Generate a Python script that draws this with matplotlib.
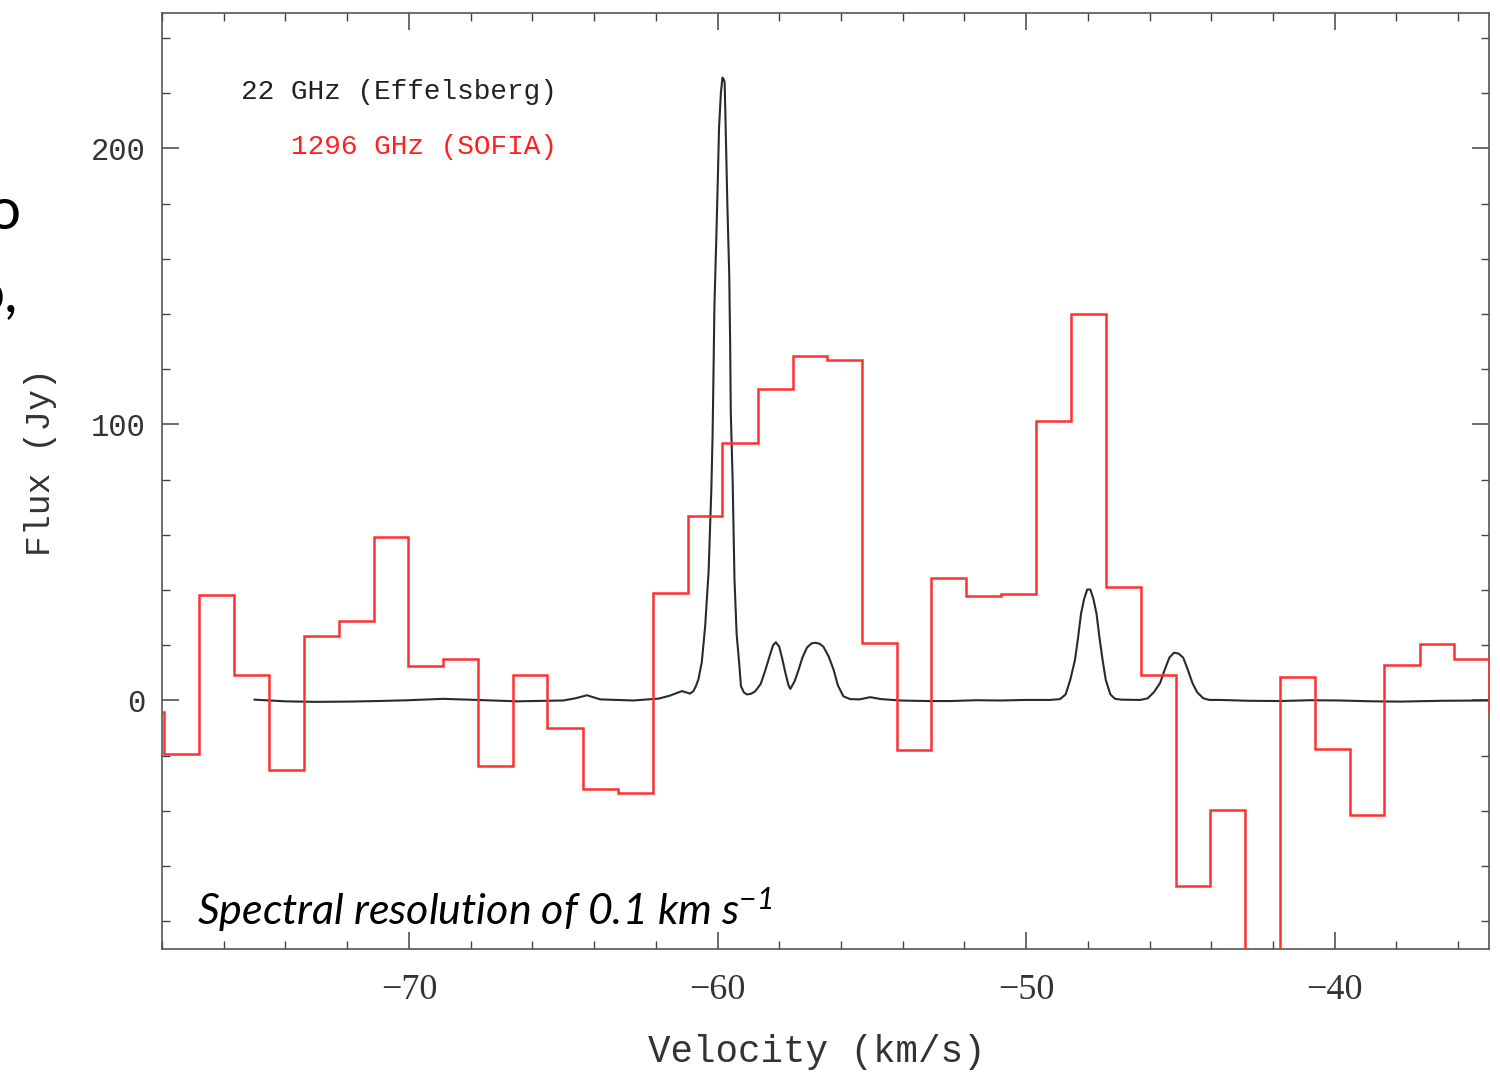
import numpy as np
import matplotlib.pyplot as plt
from matplotlib.ticker import MultipleLocator

# 22 GHz spectrum (Effelsberg)
vel_22 = [-75.0, -74.0, -73.0, -72.0, -71.0, -70.0, -68.9, -67.8, -66.5, -65.0,
          -64.6, -64.23, -63.8, -62.73, -61.9, -61.53, -61.3, -61.15, -60.89, -60.78,
          -60.70, -60.62, -60.51, -60.40, -60.29, -60.20, -60.16, -60.13, -60.10, -60.04,
          -59.99, -59.95, -59.89, -59.84, -59.80, -59.77, -59.75, -59.72, -59.68, -59.62,
          -59.59, -59.57, -59.51, -59.45, -59.38, -59.30, -59.24, -59.15, -59.05, -58.92,
          -58.78, -58.60, -58.45, -58.30, -58.20, -58.11, -58.00, -57.90, -57.80, -57.70,
          -57.64, -57.50, -57.37, -57.25, -57.10, -56.95, -56.83, -56.70, -56.57, -56.40,
          -56.24, -56.10, -55.92, -55.70, -55.40, -55.05, -54.70, -54.08, -53.2, -52.46,
          -51.6, -50.84, -50.0, -49.22, -48.90, -48.72, -48.57, -48.42, -48.32, -48.22,
          -48.12, -48.02, -47.92, -47.82, -47.72, -47.62, -47.52, -47.42, -47.27, -47.12,
          -46.90, -46.30, -46.06, -45.86, -45.66, -45.51, -45.36, -45.21, -45.06, -44.91,
          -44.76, -44.61, -44.46, -44.26, -44.06, -43.71, -42.8, -41.76, -40.8, -39.82,
          -38.8, -37.87, -36.5, -35.0]
flux_22 = [0.3, -0.3, -0.5, -0.4, -0.2, 0.1, 0.6, 0.2, -0.3, 0.0,
           0.8, 1.9, 0.4, 0.0, 0.7, 1.8, 2.8, 3.4, 2.5, 3.4,
           5.2, 7.6, 13.8, 26.9, 46.4, 76.4, 95.8, 118.7, 142.9, 167.0,
           188.8, 207.5, 220.2, 225.6, 225.0, 223.9, 214.9, 199.6, 179.1, 154.3,
           129.0, 104.3, 80.1, 43.8, 24.0, 13.8, 5.2, 3.0, 2.2, 2.4,
           3.3, 6.0, 11.0, 16.5, 20.0, 21.1, 19.5, 15.0, 10.0, 5.5,
           4.2, 7.0, 11.2, 15.5, 19.2, 20.7, 20.9, 20.6, 19.5, 16.0,
           11.2, 5.5, 1.5, 0.5, 0.4, 1.2, 0.5, 0.0, -0.2, -0.2,
           0.1, 0.0, 0.2, 0.2, 0.5, 2.2, 7.5, 14.5, 22.5, 31.5,
           36.8, 40.2, 40.2, 36.8, 31.5, 22.5, 14.5, 7.5, 2.2, 0.6,
           0.3, 0.2, 0.8, 3.0, 6.3, 11.1, 15.5, 17.3, 17.0, 15.5,
           11.1, 6.3, 3.0, 0.8, 0.2, 0.2, -0.1, -0.2, 0.1, 0.0,
           -0.3, -0.4, -0.1, 0.0]

# 1296 GHz spectrum (SOFIA), channel edges and channel values
edges_1296 = [-79.05, -77.92, -76.79, -75.67, -74.52, -73.40, -72.26, -71.13, -70.02,
              -68.88, -67.75, -66.63, -65.51, -64.36, -63.23, -62.10, -60.97, -59.84,
              -58.70, -57.57, -56.44, -55.32, -54.19, -53.07, -51.94, -50.80, -49.67,
              -48.54, -47.42, -46.28, -45.14, -44.03, -42.92, -41.78, -40.65, -39.51,
              -38.39, -37.25, -36.12, -35.01, -33.88]
flux_1296 = [-4.0, -19.2, 38.2, 9.2, -25.2, 23.3, 28.9, 59.1, 12.4, 15.2,
             -23.9, 9.3, -10.0, -31.9, -33.4, 38.8, 66.8, 93.4, 112.7, 124.8,
             123.2, 21.0, -18.1, 44.2, 37.8, 38.4, 101.2, 140.1, 41.2, 9.1,
             -67.3, -39.5, -110.0, 8.6, -17.4, -41.4, 12.7, 20.3, 15.0, -4.3]

plt.rcParams['font.family'] = ['Liberation Mono', 'DejaVu Sans']
plt.rcParams['mathtext.fontset'] = 'custom'
plt.rcParams['mathtext.rm'] = 'Lato:italic'
plt.rcParams['mathtext.it'] = 'Lato:italic'

fig = plt.figure(figsize=(15, 10.74), dpi=100)
ax = fig.add_axes([0.108, 0.1164, 0.8847, 0.8715])

ax.plot(vel_22, flux_22, color='#2a2a2a', lw=1.5, zorder=2)
ax.stairs(flux_1296, edges_1296, color='#ff3030', lw=1.8, zorder=3, baseline=None)

ax.set_xlim(-78, -35)
ax.set_ylim(-90, 249)

ax.xaxis.set_major_locator(MultipleLocator(10))
ax.xaxis.set_minor_locator(MultipleLocator(2))
ax.yaxis.set_major_locator(MultipleLocator(100))
ax.yaxis.set_minor_locator(MultipleLocator(20))
ax.tick_params(which='both', direction='in', top=True, right=True, color='#444444')
ax.tick_params(which='major', length=12, width=1.1)
ax.tick_params(which='minor', length=6, width=1.0)
ax.tick_params(axis='x', which='major', pad=18, labelsize=26, labelcolor='#333333')
ax.tick_params(axis='y', which='major', pad=12, labelsize=22, labelcolor='#333333')
for lab in ax.get_xticklabels():
    lab.set_fontfamily('Liberation Serif')
for sp in ax.spines.values():
    sp.set_color('#555555')
    sp.set_linewidth(1.2)

ax.set_xlabel('Velocity (km/s)', fontsize=27, color='#333333')
ax.xaxis.set_label_coords(0.4936, -0.110)
ax.xaxis.label.set_va('center')
ax.set_ylabel('Flux (Jy)', fontsize=25, color='#333333')
ax.yaxis.set_label_coords(-0.0912, 0.520)
ax.yaxis.label.set_va('center')

ax.text(0.2977, 0.9156, '22 GHz (Effelsberg)', transform=ax.transAxes,
        ha='right', va='center', fontsize=20, color='#222222')
ax.text(0.2977, 0.8568, '1296 GHz (SOFIA)', transform=ax.transAxes,
        ha='right', va='center', fontsize=20, color='#ff2020')

ax.text(0.0264, 0.0256, 'Spectral resolution of 0.1 km s$^{-1}$', transform=ax.transAxes,
        ha='left', va='baseline', fontsize=31, family='Lato', style='italic', color='black')

# slide text cut off at the left edge of the picture
fig.text(0.0140, 1 - 229 / 1074, 'o', ha='right', va='baseline', fontsize=42,
         family='Lato', color='black')
fig.text(0.0120, 1 - 311 / 1074, 'o,', ha='right', va='baseline', fontsize=42,
         family='Lato', color='black')

fig.savefig('out.png', dpi=100)
